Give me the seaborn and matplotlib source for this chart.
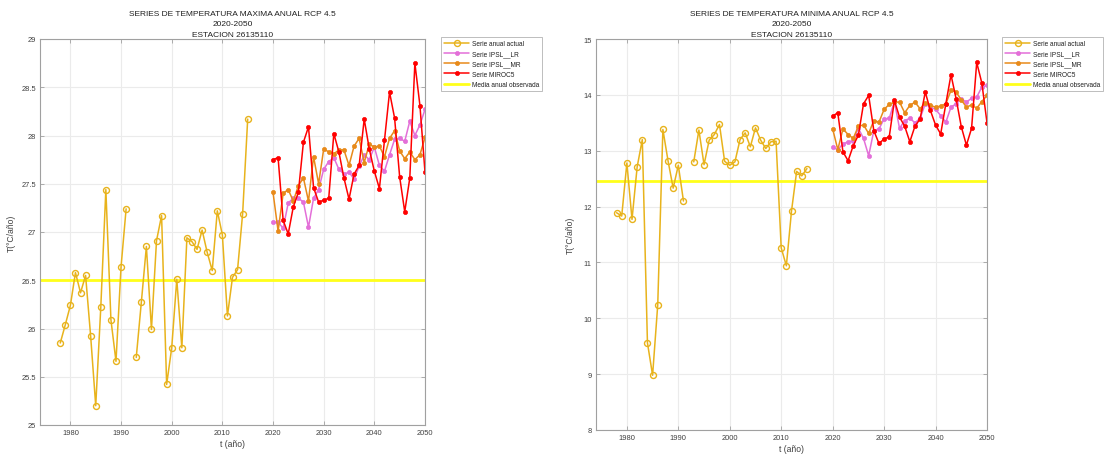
import numpy as np
import pandas as pd
import matplotlib
matplotlib.use("Agg")
import matplotlib.pyplot as plt
import seaborn as sns
from matplotlib.ticker import FormatStrFormatter, MultipleLocator

# ---------------- data ----------------
years_obs = list(range(1978, 1992)) + list(range(1993, 2016))
tmax_obs = [25.85, 26.04, 26.24, 26.58, 26.37, 26.55, 25.92, 25.20, 26.22, 27.44,
            26.09, 25.66, 26.64, 27.24,
            25.70, 26.27, 26.85, 25.99, 26.91, 27.17, 25.42, 25.80, 26.51, 25.80,
            26.94, 26.90, 26.82, 27.02, 26.79, 26.60, 27.22, 26.97, 26.13, 26.53,
            26.61, 27.19, 28.17]
tmin_obs = [11.89, 11.83, 12.78, 11.77, 12.71, 13.20, 9.56, 8.98, 10.24, 13.38,
            12.82, 12.33, 12.74, 12.10,
            12.80, 13.37, 12.75, 13.19, 13.29, 13.47, 12.81, 12.74, 12.80, 13.20,
            13.32, 13.07, 13.41, 13.19, 13.04, 13.16, 13.17, 11.26, 10.94, 11.92,
            12.63, 12.55, 12.68]

years_proj = list(range(2020, 2051))
tmax_ipsl_lr = [27.10, 27.10, 27.04, 27.30, 27.35, 27.35, 27.31, 27.05, 27.35, 27.44,
                27.65, 27.73, 27.77, 27.65, 27.60, 27.62, 27.55, 27.68, 27.80, 27.75,
                27.88, 27.69, 27.63, 27.80, 27.96, 27.97, 27.94, 28.15, 28.00, 28.11,
                28.27]
tmax_ipsl_mr = [27.41, 27.01, 27.40, 27.44, 27.32, 27.48, 27.56, 27.32, 27.78, 27.50,
                27.86, 27.83, 27.81, 27.85, 27.85, 27.69, 27.89, 27.97, 27.72, 27.91,
                27.88, 27.89, 27.78, 27.97, 28.05, 27.84, 27.76, 27.83, 27.75, 27.80,
                27.98]
tmax_miroc5 = [27.75, 27.77, 27.12, 26.98, 27.26, 27.41, 27.93, 28.09, 27.46, 27.31,
               27.33, 27.35, 28.02, 27.83, 27.56, 27.34, 27.60, 27.69, 28.17, 27.86,
               27.63, 27.45, 27.95, 28.45, 28.18, 27.57, 27.21, 27.56, 28.75, 28.31,
               27.62]
tmin_ipsl_lr = [13.06, 13.02, 13.12, 13.16, 13.18, 13.40, 13.22, 12.91, 13.36, 13.39,
                13.57, 13.58, 13.88, 13.40, 13.54, 13.58, 13.50, 13.58, 13.84, 13.78,
                13.74, 13.63, 13.51, 13.78, 13.84, 13.93, 13.87, 13.94, 13.96, 14.14,
                14.17]
tmin_ipsl_mr = [13.39, 13.02, 13.39, 13.29, 13.22, 13.44, 13.46, 13.31, 13.54, 13.51,
                13.74, 13.83, 13.87, 13.87, 13.68, 13.81, 13.87, 13.75, 13.86, 13.81,
                13.78, 13.80, 13.84, 14.08, 14.05, 13.91, 13.78, 13.82, 13.76, 13.88,
                13.99]
tmin_miroc5 = [13.62, 13.68, 12.98, 12.82, 13.09, 13.28, 13.84, 13.99, 13.36, 13.13,
               13.21, 13.25, 13.90, 13.60, 13.44, 13.16, 13.44, 13.57, 14.05, 13.72,
               13.46, 13.30, 13.84, 14.36, 13.93, 13.43, 13.10, 13.40, 14.58, 14.21,
               13.50]
tmax_mean_obs = 26.50
tmin_mean_obs = 12.45

labels = ["Serie anual actual", "Serie IPSL__LR", "Serie IPSL__MR",
          "Serie MIROC5", "Media anual observada"]
titles = ["SERIES DE TEMPERATURA MAXIMA ANUAL RCP 4.5\n2020-2050\nESTACION 26135110",
          "SERIES DE TEMPERATURA MINIMA ANUAL RCP 4.5\n2020-2050\nESTACION 26135110"]

# ---------------- style ----------------
sns.set_theme(style="ticks")
plt.rcParams["font.family"] = ["Liberation Sans", "DejaVu Sans"]

C_OBS = "#E8B31C"
C_LR = "#E36FD8"
C_MR = "#E88A1A"
C_MI = "#FF0000"
C_MEAN = "#FFFF1A"
TXT = "#404040"

fig = plt.figure(figsize=(11.07, 4.56), dpi=100)
ax1 = fig.add_axes([40 / 1107, 1 - 426 / 456, 385 / 1107, 386 / 456])
ax2 = fig.add_axes([596 / 1107, 1 - 431 / 456, 391 / 1107, 391 / 456])


def segments(years, vals):
    segs, cur = [], [[years[0]], [vals[0]]]
    for y, v in zip(years[1:], vals[1:]):
        if y - cur[0][-1] > 1:
            segs.append(cur)
            cur = [[y], [v]]
        else:
            cur[0].append(y)
            cur[1].append(v)
    segs.append(cur)
    return segs


def draw(ax, obs, lr, mr, mi, mean, ylim, ystep, yfmt, title, leg_x, ylab_x):
    for i, (ys, vs) in enumerate(segments(years_obs, obs)):
        df = pd.DataFrame({"t": ys, "T": vs})
        sns.lineplot(data=df, x="t", y="T", ax=ax, color=C_OBS, lw=1.1,
                     marker="o", markersize=4.3, markerfacecolor="none",
                     markeredgecolor=C_OBS, markeredgewidth=1.0,
                     label=labels[0] if i == 0 else None, legend=False)
    for vals, col, lab in [(lr, C_LR, labels[1]), (mr, C_MR, labels[2]), (mi, C_MI, labels[3])]:
        df = pd.DataFrame({"t": years_proj, "T": vals})
        sns.lineplot(data=df, x="t", y="T", ax=ax, color=col, lw=1.1,
                     marker="o", markersize=3.0, markerfacecolor=col,
                     markeredgecolor=col, markeredgewidth=0.5,
                     label=lab, legend=False)
    ax.axhline(mean, color=C_MEAN, lw=2.0, label=labels[4], zorder=1.5)

    ax.set_xlim(1974, 2050)
    ax.set_ylim(*ylim)
    ax.xaxis.set_major_locator(MultipleLocator(10))
    ax.yaxis.set_major_locator(MultipleLocator(ystep))
    ax.yaxis.set_major_formatter(FormatStrFormatter(yfmt))
    ax.grid(True, color="#ebebeb", lw=0.8)
    ax.set_axisbelow(True)
    for s in ax.spines.values():
        s.set_color("#a0a0a0")
        s.set_linewidth(0.8)
        s.set_visible(True)
    ax.tick_params(direction="in", length=3, width=0.6, colors="#a0a0a0",
                   labelcolor=TXT, labelsize=5.4, top=True, right=True, pad=3)
    ax.set_xlabel("t (año)", fontsize=6.2, color=TXT, labelpad=2)
    ax.set_ylabel("T(°C/año)", fontsize=6.2, color=TXT)
    ax.yaxis.set_label_coords(ylab_x, 0.5)
    ax.set_title(title, fontsize=6.0, color="#202020", pad=2, linespacing=1.75)

    h, l = ax.get_legend_handles_labels()
    leg = fig.legend(h, l, loc="upper left", bbox_to_anchor=(leg_x, 1 - 38 / 456),
                     bbox_transform=fig.transFigure, fontsize=4.7, frameon=True,
                     fancybox=False, edgecolor="#a0a0a0", handlelength=3.9,
                     handletextpad=0.4, labelspacing=0.5, borderpad=0.45,
                     borderaxespad=0)
    leg.get_frame().set_linewidth(0.6)
    for t in leg.get_texts():
        t.set_color("#202020")


draw(ax1, tmax_obs, tmax_ipsl_lr, tmax_ipsl_mr, tmax_miroc5, tmax_mean_obs,
     (25, 29), 0.5, "%g", titles[0], 441 / 1107, -0.062)
draw(ax2, tmin_obs, tmin_ipsl_lr, tmin_ipsl_mr, tmin_miroc5, tmin_mean_obs,
     (8, 15), 1, "%g", titles[1], 1002 / 1107, -0.054)

fig.savefig("out.png", dpi=100)
